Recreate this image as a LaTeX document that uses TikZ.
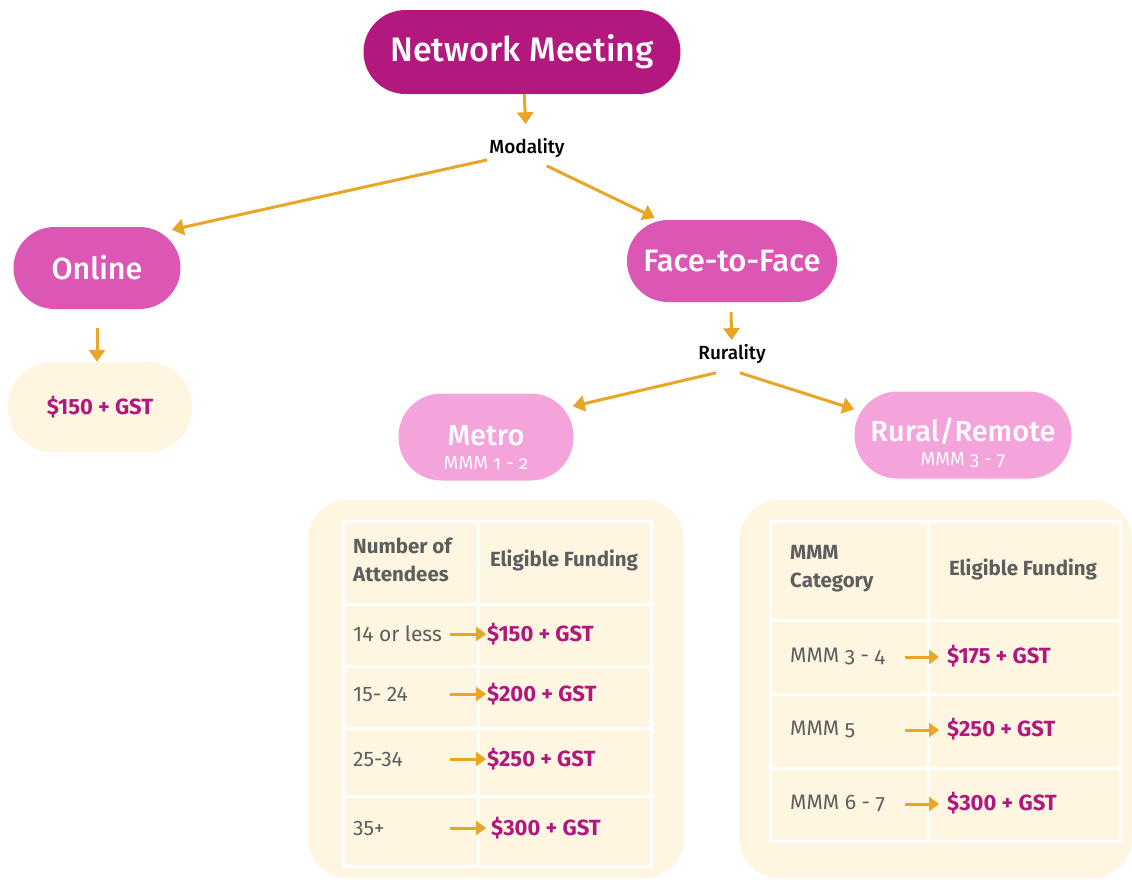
\documentclass[tikz,border=0pt]{standalone}
\usepackage{fontspec}
\setmainfont{Fira Sans}
\newfontfamily\medfont{Fira Sans Medium}
\newfontfamily\oldnum[Numbers=OldStyle]{Fira Sans}
\usetikzlibrary{arrows.meta, calc}
\definecolor{meetmag}{HTML}{B3187F}
\definecolor{modpink}{HTML}{DC57B3}
\definecolor{rurpink}{HTML}{F4A3DB}
\definecolor{cream}{HTML}{FFF6E1}
\definecolor{floworange}{HTML}{E9A526}
\definecolor{costmag}{HTML}{B0187F}
\definecolor{tabgray}{HTML}{5E5E5E}
\tikzset{pill/.style={rectangle, rounded corners=#1, inner sep=0pt, align=center, text=white}}
\tikzset{flow/.style={draw=floworange, line width=3pt, -{Triangle[width=16pt,length=12pt]}}}
\tikzset{rowflow/.style={draw=floworange, line width=3pt, -{Triangle[width=14pt,length=10pt]}}}
\tikzset{choice/.style={font=\medfont\fontsize{19}{20}\selectfont, inner sep=2pt}}
\tikzset{cost/.style={font=\fontsize{22}{24}\selectfont\bfseries, text=costmag, inner sep=1pt, anchor=west}}
\tikzset{rowlabel/.style={font=\fontsize{21}{24}\selectfont, text=tabgray, inner sep=0pt, anchor=west}}
\tikzset{header/.style={font=\fontsize{20.5}{28}\selectfont\bfseries, text=tabgray, inner sep=0pt, align=left}}
\tikzset{grid lines/.style={draw=white, line width=3pt}}

\begin{document}
\begin{tikzpicture}[x=1pt,y=1pt]
  \useasboundingbox (0,0) rectangle (1132,-879);
  % table backgrounds
  \fill[cream, rounded corners=40pt] (308,-500) rectangle (684,-878);
  \fill[cream, rounded corners=40pt] (739,-500) rectangle (1132,-878);

  \node[pill=42pt, fill=meetmag, minimum width=317pt, minimum height=84pt, font=\medfont\fontsize{34}{40}\selectfont] (Meet) at (522,-52) {Network Meeting};
  \node[choice] (Mod) at (527,-148) {Modality};
  \node[pill=41pt, fill=modpink, minimum width=167pt, minimum height=82pt, font=\medfont\fontsize{30.5}{32}\selectfont] (Online) at (97,-268) {Online};
  \node[pill=41pt, fill=modpink, minimum width=210pt, minimum height=82pt, font=\medfont\fontsize{31}{32}\selectfont] (F2F) at (732,-261) {Face-to-Face};
  \node[pill=45pt, fill=cream, minimum width=185pt, minimum height=90pt, font=\fontsize{22}{24}\selectfont\bfseries, text=costmag] (OnCost) at (100,-407) {\$150 + GST};
  \node[choice] (Rur) at (732,-354) {Rurality};
  \node[pill=43pt, fill=rurpink, minimum width=175pt, minimum height=87pt, font=\fontsize{15}{30}\selectfont] (Metro) at (486,-437)
    {\rule{0pt}{40pt}{\medfont\fontsize{29}{30}\selectfont Metro}\\[-6pt]{\oldnum\fontsize{19}{18}\selectfont MMM 1 - 2}};
  \node[pill=43pt, fill=rurpink, minimum width=217pt, minimum height=87pt, font=\fontsize{15}{30}\selectfont] (Rural) at (963,-435)
    {\rule{0pt}{40pt}{\medfont\fontsize{29}{30}\selectfont Rural/Remote}\\[-6pt]{\oldnum\fontsize{19}{18}\selectfont MMM 3 - 7}};

  \draw[flow, shorten >=12pt] (Meet) -- (Mod);
  \draw[flow] (Mod.south west) -- ($(Online.north east)+(-9,-3)$);
  \draw[flow] ($(Mod.south east)+(-20,-6)$) -- ($(F2F.north west)+(28,2)$);
  \draw[flow] ($(Online.south)+(0,-19)$) -- (OnCost.north -| Online.south);
  \draw[flow, shorten >=2pt] ($(F2F.south)+(-1,-10)$) -- (Rur);
  \draw[flow] ($(Rur.south)+(-16,-7)$) -- ($(Metro.north east)+(-1,-13)$);
  \draw[flow] ($(Rur.south)+(8,-7)$) -- ($(Rural.north west)+(0,-18)$);

  % metro table
  \draw[grid lines] (343,-521) rectangle (651,-866);
  \draw[grid lines] (478,-521) -- (478,-866);
  \foreach \y in {604,666,728,796} \draw[grid lines] (343,-\y) -- (651,-\y);
  \node[header, anchor=west] (MetH1) at (353,-560) {Number of\\Attendees};
  \node[header] (MetH2) at (564,-560) {Eligible Funding};
  \node[rowlabel] (MetA1) at (353,-634) {14 or less};
  \node[rowlabel] (MetA2) at (353,-694) {15- 24};
  \node[rowlabel] (MetA3) at (353,-759) {25-34};
  \node[rowlabel] (MetA4) at (353,-828) {35+};
  \node[cost] (MetF1) at (486,-634) {\$150 + GST};
  \node[cost] (MetF2) at (486,-694) {\$200 + GST};
  \node[cost] (MetF3) at (486,-759) {\$250 + GST};
  \node[cost] (MetF4) at (490,-828) {\$300 + GST};
  \coordinate (MetS1) at (450,-634);
  \coordinate (MetS2) at (450,-694);
  \coordinate (MetS3) at (450,-759);
  \coordinate (MetS4) at (450,-828);
  \draw[rowflow] (MetS1) -- (MetF1.west);
  \draw[rowflow] (MetS2) -- (MetF2.west);
  \draw[rowflow] (MetS3) -- (MetF3.west);
  \draw[rowflow] (MetS4) -- ($(MetF4.west)+(-4,0)$);

  % rural table
  \draw[grid lines] (770,-521) rectangle (1120,-841);
  \draw[grid lines] (928,-521) -- (928,-841);
  \foreach \y in {620,694,768} \draw[grid lines] (770,-\y) -- (1120,-\y);
  \node[header, anchor=west] (RurH1) at (790,-569) {MMM\\Category};
  \node[header] (RurH2) at (1023,-569) {Eligible Funding};
  \node[rowlabel] (RurA1) at (790,-656) {MMM {\oldnum 3 - 4}};
  \node[rowlabel] (RurA2) at (790,-729) {MMM {\oldnum 5}};
  \node[rowlabel] (RurA3) at (790,-803) {MMM {\oldnum 6 - 7}};
  \node[cost] (RurF1) at (946,-656) {\$175 + GST};
  \node[cost] (RurF2) at (946,-729) {\$250 + GST};
  \node[cost] (RurF3) at (946,-803) {\$300 + GST};
  \coordinate (RurS1) at (905,-657);
  \coordinate (RurS2) at (905,-730);
  \coordinate (RurS3) at (905,-804);
  \draw[rowflow] (RurS1) -- ($(RurF1.west)+(-7,-1)$);
  \draw[rowflow] (RurS2) -- ($(RurF2.west)+(-7,-1)$);
  \draw[rowflow] (RurS3) -- ($(RurF3.west)+(-7,-1)$);
\end{tikzpicture}
\end{document}
